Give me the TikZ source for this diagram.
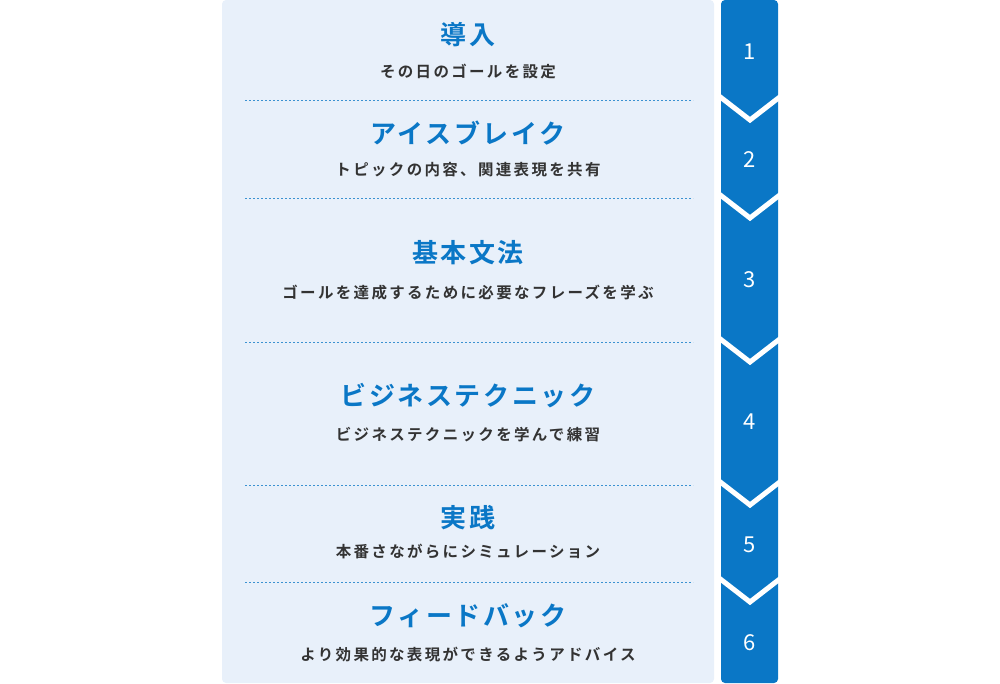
\documentclass[tikz,border=0pt]{standalone}
\usepackage{fontspec}
\newfontfamily\cjk{Noto Sans CJK JP}
\newfontfamily\cjktitle[LetterSpace=10]{Noto Sans CJK JP Bold}
\newfontfamily\cjksub[LetterSpace=15]{Noto Sans CJK JP Bold}
\definecolor{stepblue}{HTML}{0A77C6}
\definecolor{panelbg}{HTML}{E8F0FA}
\definecolor{subtext}{HTML}{333333}
\tikzset{
  title/.style={font=\cjktitle\fontsize{26}{28}\selectfont, text=stepblue},
  subtitle/.style={font=\cjksub\fontsize{15.5}{17}\selectfont, text=subtext},
  num/.style={font=\cjk\fontsize{22}{24}\selectfont, text=white},
  sepline/.style={stepblue!80, dash pattern=on 2pt off 2pt, line width=1pt},
  chevron/.style={white, line width=5pt}
}
\begin{document}
\begin{tikzpicture}[x=1pt, y=-1pt]
\useasboundingbox (0,0) rectangle (1000,683);

% background panel and blue column
\fill[panelbg, rounded corners=4pt] (222,0) rectangle (714,683);
\fill[stepblue, rounded corners=4pt] (721,0) rectangle (778,683);

% separators and chevrons
\foreach \y in {100,198,342,485,582}{
  \draw[sepline] (245,\y) -- (693,\y);
  \draw[chevron] (719,\y-4) -- (750,\y+20) -- (781,\y-4);
}

% step texts
\node[title] (t1) at (468,35) {導入};
\node[subtitle] (s1) at (468,72) {その日のゴールを設定};
\node[title] (t2) at (468,133) {アイスブレイク};
\node[subtitle] (s2) at (468,170) {トピックの内容、関連表現を共有};
\node[title] (t3) at (468,253) {基本文法};
\node[subtitle] (s3) at (468,293) {ゴールを達成するために必要なフレーズを学ぶ};
\node[title] (t4) at (468,396) {ビジネステクニック};
\node[subtitle] (s4) at (468,435) {ビジネステクニックを学んで練習};
\node[title] (t5) at (468,518) {実践};
\node[subtitle] (s5) at (468,551) {本番さながらにシミュレーション};
\node[title] (t6) at (468,616) {フィードバック};
\node[subtitle] (s6) at (468,655) {より効果的な表現ができるようアドバイス};

% step numbers
\node[num] (n1) at (750,52) {1};
\node[num] (n2) at (750,160) {2};
\node[num] (n3) at (750,280) {3};
\node[num] (n4) at (750,422) {4};
\node[num] (n5) at (750,545) {5};
\node[num] (n6) at (750,643) {6};
\end{tikzpicture}
\end{document}
